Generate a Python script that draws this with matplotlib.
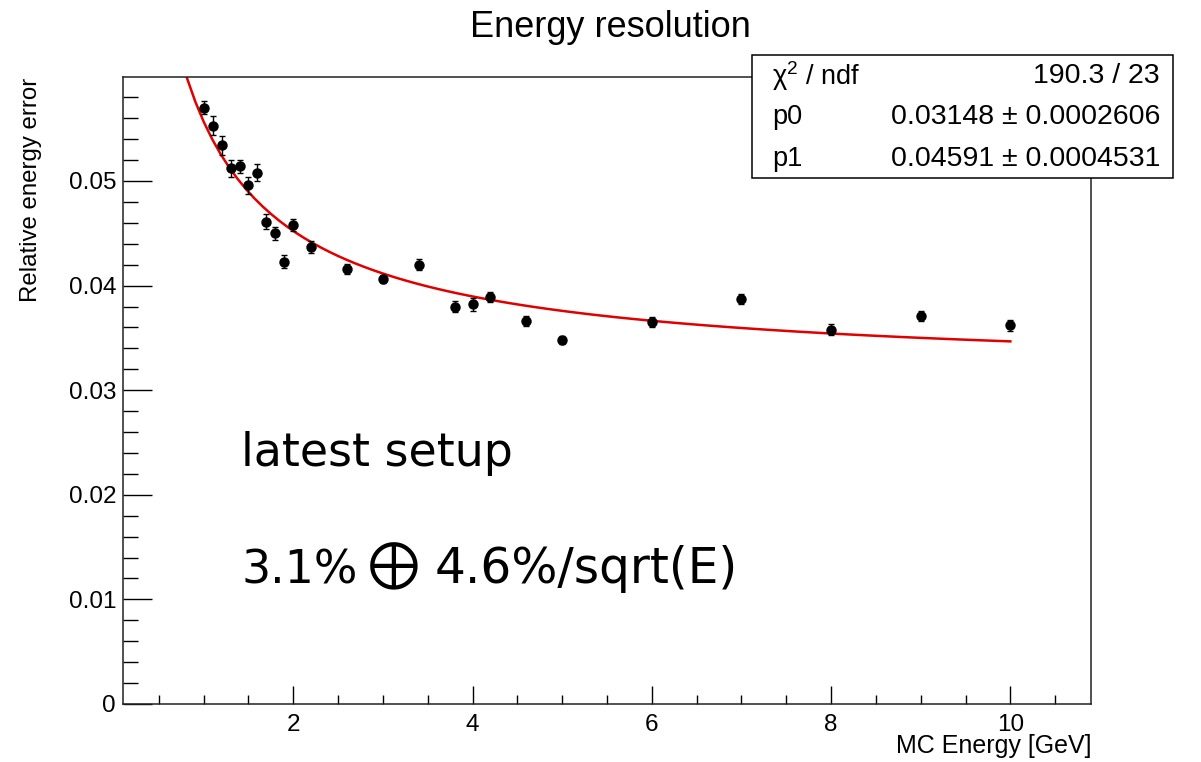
import matplotlib

matplotlib.use("Agg")
import matplotlib.pyplot as plt  # noqa: E402
import numpy as np  # noqa: E402
from matplotlib.patches import Rectangle  # noqa: E402
from matplotlib.ticker import FuncFormatter, MultipleLocator  # noqa: E402

# measured points
energy = [1.0, 1.1, 1.2, 1.3, 1.4, 1.5, 1.6, 1.7, 1.8, 1.9, 2.0, 2.2, 2.6,
          3.0, 3.4, 3.8, 4.0, 4.2, 4.6, 5.0, 6.0, 7.0, 8.0, 9.0, 10.0]
rel_err = [0.0570, 0.0553, 0.0534, 0.0512, 0.0514, 0.0496, 0.0508, 0.0461,
           0.0450, 0.0423, 0.0458, 0.0437, 0.0416, 0.0406, 0.0420, 0.0380,
           0.0382, 0.0389, 0.0366, 0.0348, 0.0365, 0.0387, 0.0358, 0.0371,
           0.0362]
rel_err_unc = [0.0006, 0.0009, 0.0009, 0.0008, 0.0006, 0.0008, 0.0008, 0.0007,
               0.0006, 0.0006, 0.0006, 0.0006, 0.0005, 0.0004, 0.0005, 0.0005,
               0.0006, 0.0005, 0.0005, 0.0004, 0.0005, 0.0005, 0.0005, 0.0005,
               0.0005]

# fit result shown in the stats box
p0 = 0.03148
p1 = 0.04591
fit_range = (0.72, 10.0)
stats_rows = [
    ("\u03c7$^{2}$ / ndf", "190.3 / 23"),
    ("p0", "0.03148 \u00b1 0.0002606"),
    ("p1", "0.04591 \u00b1 0.0004531"),
]

W, H = 1201, 762
plt.rcParams["font.family"] = ["Liberation Sans", "DejaVu Sans"]
plt.rcParams["mathtext.fontset"] = "custom"
plt.rcParams["mathtext.rm"] = "Liberation Sans"
plt.rcParams["mathtext.it"] = "Liberation Sans"

fig = plt.figure(figsize=(W / 100, H / 100), dpi=100)
ax = fig.add_axes([123 / W, 1 - 704 / H, (1091 - 123) / W, (704 - 77) / H])

# fit function: p0 (+) p1/sqrt(E)
e_fit = np.linspace(fit_range[0], fit_range[1], 100)
y_fit = np.sqrt(p0 ** 2 + p1 ** 2 / e_fit)
ax.plot(e_fit, y_fit, color="#e00000", linewidth=1.8, zorder=2)

ax.errorbar(energy, rel_err, yerr=rel_err_unc, fmt="o", color="black",
            markersize=6.5, elinewidth=1.0, capsize=2.5, capthick=1.0, zorder=3)

ax.set_xlim(0.1, 10.9)
ax.set_ylim(0.0, 0.05994)
ax.xaxis.set_major_locator(MultipleLocator(2))
ax.xaxis.set_minor_locator(MultipleLocator(0.5))
ax.yaxis.set_major_locator(MultipleLocator(0.01))
ax.yaxis.set_minor_locator(MultipleLocator(0.002))
ax.yaxis.set_major_formatter(FuncFormatter(lambda v, _: "0" if abs(v) < 1e-9 else f"{v:.2f}"))
ax.xaxis.set_major_formatter(FuncFormatter(lambda v, _: f"{v:g}"))

ax.tick_params(axis="x", which="major", direction="in", length=13, width=1.0,
               labelsize=17.5, pad=7, top=False)
ax.tick_params(axis="x", which="minor", direction="in", length=6.5, width=1.0, top=False)
ax.tick_params(axis="y", which="major", direction="in", length=21, width=1.0,
               labelsize=17.5, pad=5, right=False)
ax.tick_params(axis="y", which="minor", direction="in", length=10.5, width=1.0, right=False)
for sp in ax.spines.values():
    sp.set_linewidth(1.1)
    sp.set_color("#222222")

fig.text(610 / W, 1 - 37 / H, "Energy resolution", ha="center", va="baseline", fontsize=26)
fig.text(1091 / W, 1 - 753 / H, "MC Energy [GeV]", ha="right", va="baseline", fontsize=18)
fig.text(31 / W, 1 - 78 / H, "Relative energy error", rotation=90, ha="center",
         va="top", fontsize=17.3)

# annotation, drawn in pieces so the oplus sign can be larger
fig.text(241 / W, 1 - 466 / H, "latest setup", family="DejaVu Sans",
         fontsize=33, ha="left", va="baseline")
fig.text(241 / W, 1 - 583 / H, "3.1%", family="DejaVu Sans",
         fontsize=33, ha="left", va="baseline")
fig.text(394 / W, 1 - 567 / H, "\u2295", family="STIXGeneral",
         fontsize=46, ha="center", va="center")
fig.text(435 / W, 1 - 583 / H, "4.6%/sqrt(E)", family="DejaVu Sans",
         fontsize=35, ha="left", va="baseline")

# stats box
fig.patches.append(Rectangle((752 / W, 1 - 178 / H), (1173 - 752) / W, (178 - 55) / H,
                             transform=fig.transFigure, facecolor="white",
                             edgecolor="black", linewidth=1.1, zorder=5))
for i, (name, val) in enumerate(stats_rows):
    yc = 1 - (76 + 41.5 * i) / H
    fig.text(772 / W, yc, name, ha="left", va="center", fontsize=19.5, zorder=6)
    fig.text(1160 / W, yc, val, ha="right", va="center", fontsize=20.5, zorder=6)

fig.savefig("out.png", dpi=100)
